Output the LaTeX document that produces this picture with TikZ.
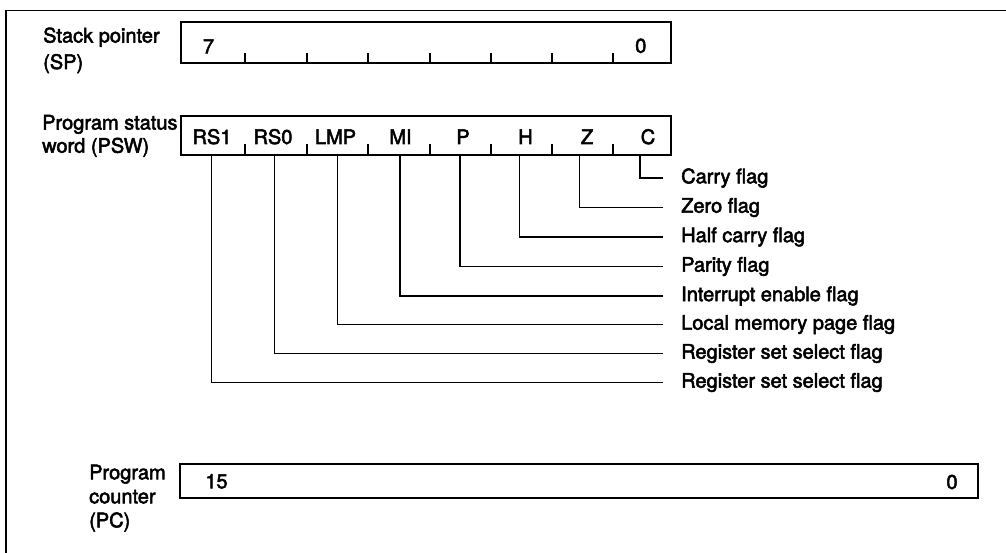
\documentclass[tikz,border=0pt]{standalone}
\usepackage{fontspec}
\setmainfont{TeX Gyre Heros}[FakeBold=2.6]
\begin{document}
\begin{tikzpicture}[x=1pt,y=-1pt,
  reg/.style={draw, line width=2pt, rectangle, inner sep=0pt},
  txt/.style={font=\fontsize{20}{24}\selectfont, inner sep=0pt, anchor=base},
  lbl/.style={txt, anchor=base west},
  tickmark/.style={line width=2pt},
  conn/.style={line width=1.5pt},
  frameline/.style={line width=1.5pt}]
\useasboundingbox (0,0) rectangle (1006,553);
% frame
\draw[frameline] (6,553) -- (6,10.5) -- (1006,10.5);

% Stack pointer
\node[lbl] (spl1) at (43,42.5) {Stack pointer};
\node[lbl] (spl2) at (43,69) {(SP)};
\node[reg, minimum width=490pt, minimum height=40.5pt] (sp) at (426,42.75) {};
\foreach \x in {245,306.7,368.3,430,491,551.7,612.7}
  \draw[tickmark] (\x,0 |- sp.south) -- ++(0,-11.3);
\node[txt] (sp7) at (208.5,53.3) {7};
\node[txt] (sp0) at (640.8,52.8) {0};

% Program status word
\node[lbl] (pswl1) at (42,129.5) {Program status};
\node[lbl] (pswl2) at (42,152.7) {word (PSW)};
\node[reg, minimum width=490pt, minimum height=38.5pt] (psw) at (426,135.75) {};
\foreach \x in {245,306.7,368.3,430,491,551.7,612.7}
  \draw[tickmark] (\x,0 |- psw.south) -- ++(0,-11.7);
\node[txt] (bRS1) at (212,144) {RS1};
\node[txt] (bRS0) at (273,144) {RS0};
\node[txt] (bLMP) at (335.5,144) {LMP};
\node[txt] (bMI) at (400.5,144) {MI};
\node[txt] (bP) at (463,144) {P};
\node[txt] (bH) at (525.5,144) {H};
\node[txt] (bZ) at (587,144) {Z};
\node[txt] (bC) at (648,144) {C};

% connector start points (bottom of PSW)
\coordinate (cC) at (640,155);
\coordinate (cZ) at (579.3,155);
\coordinate (cH) at (519.3,155);
\coordinate (cP) at (460,155);
\coordinate (cMI) at (400,155);
\coordinate (cLMP) at (337.7,155);
\coordinate (cRS0) at (274.3,155);
\coordinate (cRS1) at (211.7,155);

% connector end points and labels
\foreach \n/\yy/\t in {C/178/Carry flag, Z/207.5/Zero flag, H/237/Half carry flag,
  P/266.5/Parity flag, MI/296/Interrupt enable flag, LMP/324.5/Local memory page flag,
  RS0/353.5/Register set select flag, RS1/382.5/Register set select flag}{
  \coordinate (e\n) at (663,\yy);
  \node[lbl, anchor=west] (l\n) at (681,\yy) {\t};
}
\foreach \n in {C,Z,H,P,MI,LMP,RS0,RS1}
  \draw[conn] (c\n) |- (e\n);

% Program counter
\node[lbl] (pcl1) at (89,479.3) {Program};
\node[lbl] (pcl2) at (89,503.3) {counter};
\node[lbl] (pcl3) at (89,527.3) {(PC)};
\node[reg, minimum width=798.3pt, minimum height=33.5pt] (pc) at (579.15,480.75) {};
\node[txt] (pc15) at (216.5,488.3) {15};
\node[txt] (pc0) at (952,489) {0};
\end{tikzpicture}
\end{document}
